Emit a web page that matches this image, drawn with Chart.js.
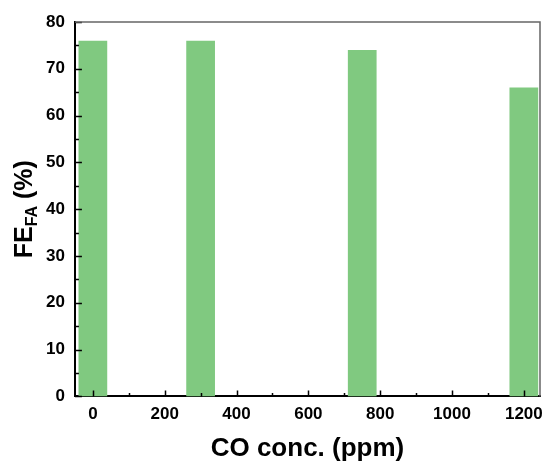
<!DOCTYPE html>
<html>
<head>
<meta charset="utf-8">
<script src="https://cdn.jsdelivr.net/npm/chart.js@4/dist/chart.umd.min.js"></script>
<style>
  html, body { margin: 0; padding: 0; background: #fff; }
  #wrap { width: 543px; height: 461px; }
</style>
</head>
<body>
<div id="wrap"><canvas id="c" width="543" height="461"></canvas></div>
<script>
// data
const coConc = [0, 300, 750, 1200];        // ppm
const feFA = [76, 76, 74, 66];             // %
const xTickValues = [0, 100, 200, 300, 400, 500, 600, 700, 800, 900, 1000, 1100, 1200];
const yTickValues = [0, 5, 10, 15, 20, 25, 30, 35, 40, 45, 50, 55, 60, 65, 70, 75, 80];

const FONT = "'Liberation Sans', Arial, sans-serif";

// inward tick marks + grey top/right frame
const frameTicks = {
    id: 'frameTicks',
    afterDatasetsDraw(chart) {
        const { ctx, chartArea: a, scales: { x, y } } = chart;
        ctx.save();
        ctx.strokeStyle = '#000';
        ctx.lineWidth = 1.5;
        ctx.beginPath();
        xTickValues.forEach(v => {
            const px = Math.round(x.getPixelForValue(v)) + 0.5;
            const len = v % 200 === 0 ? 6 : 3.5;
            ctx.moveTo(px, a.bottom);
            ctx.lineTo(px, a.bottom - len);
        });
        yTickValues.forEach(v => {
            const py = Math.round(y.getPixelForValue(v)) + 0.5;
            const len = v % 10 === 0 ? 7 : 4;
            ctx.moveTo(a.left, py);
            ctx.lineTo(a.left + len, py);
        });
        ctx.stroke();

        ctx.strokeStyle = '#666';
        ctx.lineWidth = 1.5;
        ctx.beginPath();
        ctx.moveTo(a.left, a.top);
        ctx.lineTo(a.right, a.top);
        ctx.lineTo(a.right, a.bottom);
        ctx.stroke();
        ctx.restore();
    },
    afterDraw(chart) {
        // y title with subscript: FE_FA (%)
        const { ctx, chartArea: a } = chart;
        const big = 'bold 25px ' + FONT;
        const small = 'bold 16px ' + FONT;
        ctx.save();
        ctx.fillStyle = '#000';
        ctx.textBaseline = 'alphabetic';
        ctx.font = big;
        const w1 = ctx.measureText('FE').width;
        const w3 = ctx.measureText(' (%)').width;
        ctx.font = small;
        const w2 = ctx.measureText('FA').width;
        const total = w1 + w2 + w3;
        ctx.translate(32, (a.top + a.bottom) / 2);
        ctx.rotate(-Math.PI / 2);
        let pos = -total / 2;
        ctx.font = big;
        ctx.fillText('FE', pos, 0);
        pos += w1;
        ctx.font = small;
        ctx.fillText('FA', pos, 5);
        pos += w2;
        ctx.font = big;
        ctx.fillText(' (%)', pos, 0);
        ctx.restore();
    }
};

new Chart(document.getElementById('c'), {
    type: 'bar',
    data: {
        datasets: [{
            label: 'FE FA',
            data: coConc.map((c, i) => ({ x: c, y: feFA[i] })),
            backgroundColor: '#80c980',
            borderWidth: 0,
            categoryPercentage: 0.8,
            barPercentage: 1
        }]
    },
    options: {
        responsive: false,
        animation: false,
        layout: { padding: { left: 36, right: 3, top: 22, bottom: -3 } },
        plugins: {
            legend: { display: false },
            tooltip: { enabled: false }
        },
        scales: {
            x: {
                type: 'linear',
                min: -50,
                max: 1245,
                offset: false,
                afterBuildTicks: scale => {
                    scale.ticks = xTickValues.map(v => ({ value: v }));
                },
                afterFit: scale => {
                    scale.paddingRight = 0;
                },
                grid: { display: false, drawTicks: false, offset: false },
                border: { display: true, color: '#000', width: 2 },
                ticks: {
                    autoSkip: false,
                    maxRotation: 0,
                    padding: 8,
                    color: '#000',
                    font: { family: FONT, size: 17, weight: 'bold' },
                    callback: v => (v % 200 === 0 ? String(v) : '')
                },
                title: {
                    display: true,
                    text: 'CO conc. (ppm)',
                    color: '#000',
                    font: { family: FONT, size: 26, weight: 'bold' },
                    padding: { top: 0, bottom: 0 }
                }
            },
            y: {
                min: 0,
                max: 80,
                afterBuildTicks: scale => {
                    scale.ticks = yTickValues.filter(v => v % 10 === 0).map(v => ({ value: v }));
                },
                grid: { display: false, drawTicks: false },
                border: { display: true, color: '#000', width: 2 },
                ticks: {
                    padding: 10,
                    color: '#000',
                    font: { family: FONT, size: 17, weight: 'bold' }
                }
            }
        }
    },
    plugins: [frameTicks]
});
</script>
</body>
</html>
